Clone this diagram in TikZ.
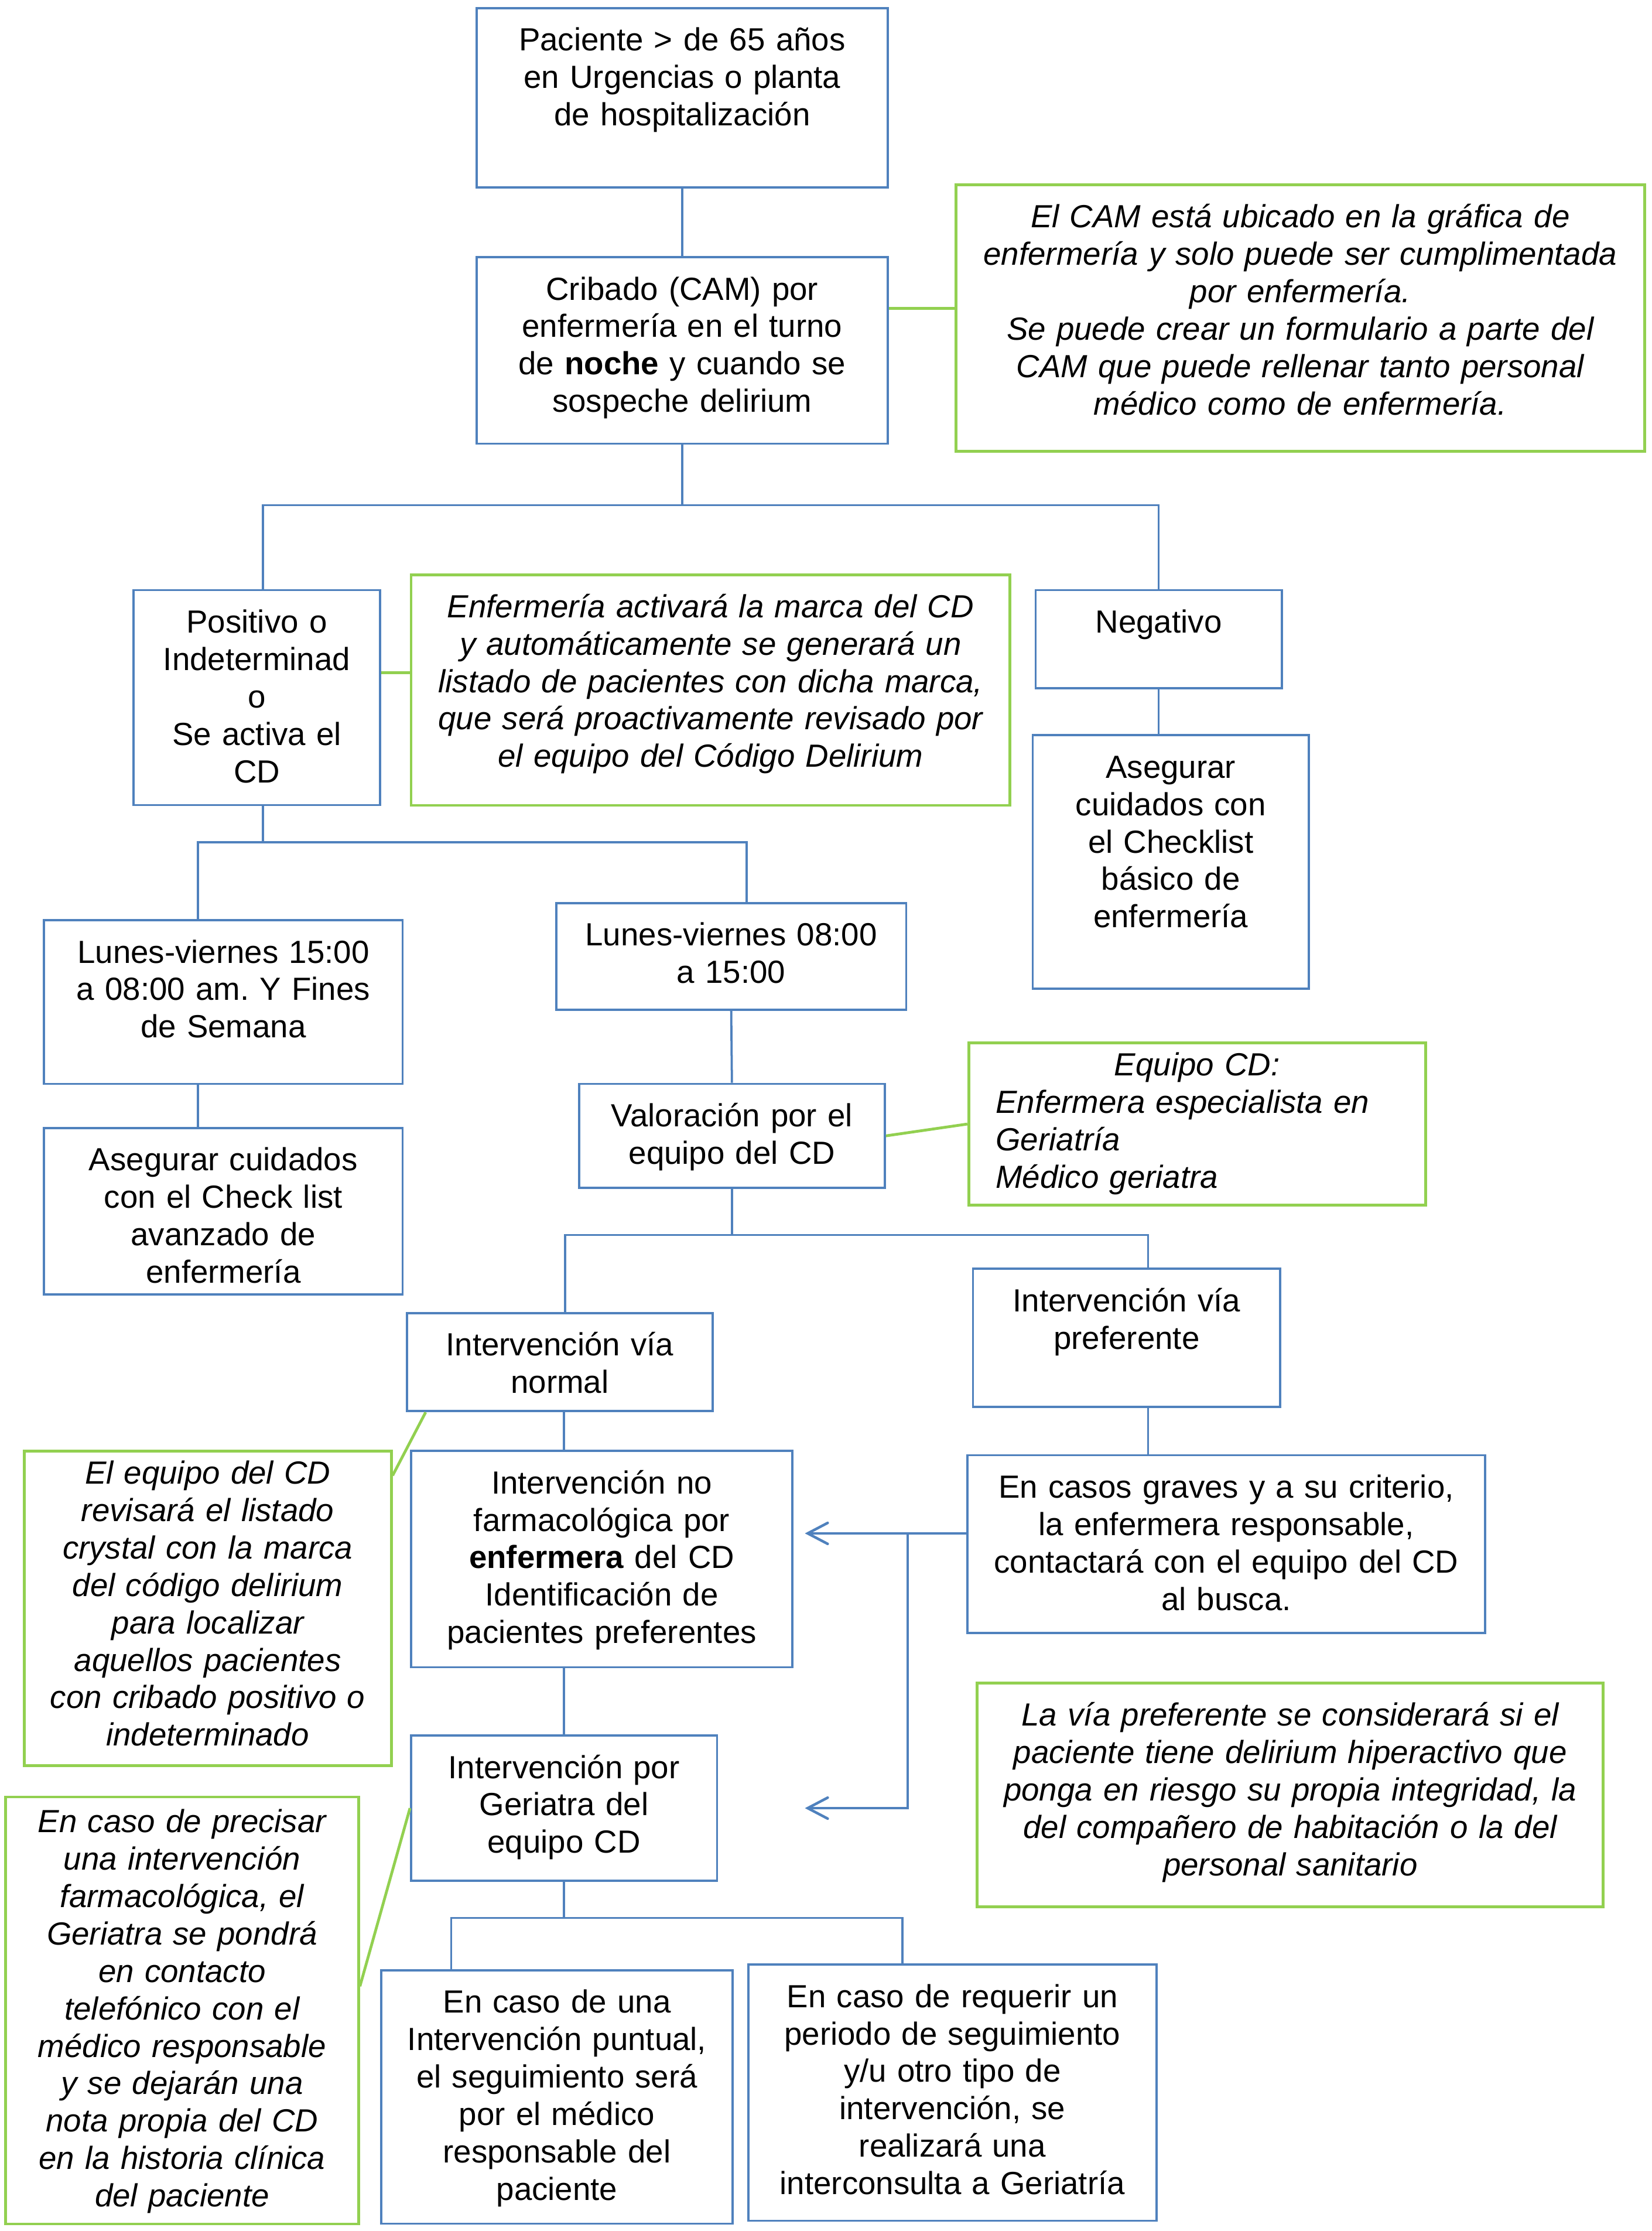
\documentclass[tikz,border=0pt]{standalone}
\usepackage{fontspec}
\setmainfont{Liberation Sans}
\usepackage{xcolor}
\usepackage{tikz}
\usetikzlibrary{calc,arrows.meta}
\definecolor{cdblue}{HTML}{4F81BD}
\definecolor{cdgreen}{HTML}{92D050}
\frenchspacing

\begin{document}
\begin{tikzpicture}[x=0.025cm, y=-0.025cm,
    bbox/.style={draw=cdblue, line width=1.1pt, anchor=north, inner sep=0pt, align=center,
        text height=0.75cm, font=\fontsize{16}{18.7}\selectfont},
    gbox/.style={bbox, draw=cdgreen, line width=1.4pt, font=\fontsize{16}{18.7}\selectfont\itshape},
    lnk/.style={cdblue, line width=1.1pt},
    alnk/.style={cdblue, line width=1.3pt, line cap=round, ->},
    glnk/.style={cdgreen, line width=1.4pt},
    >={Straight Barb[length=10pt, width=10.5pt, line cap=round]}]
    \useasboundingbox (0,0) rectangle (1161,1568);
    % top of the chart
    \node[bbox, text width=7.225cm, text depth=2.4cm] (pac) at (479.5,5)
        {Paciente > de 65 años\\ en Urgencias o planta\\ de hospitalización};
    \node[bbox, text width=7.225cm, text depth=2.525cm] (crib) at (479.5,180)
        {Cribado (CAM) por\\ enfermería en el turno\\ de \textbf{noche} y cuando se\\ sospeche delirium};
    \node[gbox, text width=12.1cm, text depth=3.925cm] (cam) at (914,129)
        {El CAM está ubicado en la gráfica de\\ enfermería y solo puede ser cumplimentada\\ por enfermería.\\
         Se puede crear un formulario a parte del\\ CAM que puede rellenar tanto personal\\ médico como de enfermería.};
    \draw[lnk] (pac.south) -- (crib.north);
    \draw[glnk] ([yshift=0.74cm]crib.east) -- ([yshift=0.74cm]crib.east -| cam.west);
    % cribado result
    \node[bbox, text width=4.325cm, text depth=3.025cm] (pos) at (180.5,414)
        {Positivo o\\ Indeterminad\\ o\\ Se activa el\\ CD};
    \node[gbox, text width=10.525cm, text depth=3.3cm] (enf) at (499.5,403)
        {Enfermería activará la marca del CD\\ y automáticamente se generará un\\ listado de pacientes con dicha marca,\\
         que será proactivamente revisado por\\ el equipo del Código Delirium};
    \node[bbox, text width=4.325cm, text depth=0.975cm] (neg) at (814.5,414) {Negativo};
    \node[bbox, text width=4.85cm, text depth=3.7cm] (chkb) at (823,516)
        {Asegurar\\ cuidados con\\ el Checklist\\ básico de\\ enfermería};
    \draw[lnk] (crib.south) -- (crib.south |- 0,355);
    \draw[lnk] ([xshift=0.11cm]pos.north) |- (neg.north |- 0,355) -- (neg.north);
    \draw[glnk] ([yshift=0.44cm]pos.east) -- ([yshift=0.44cm]pos.east -| enf.west);
    \draw[lnk] (neg.south) -- (neg.south |- chkb.north);
    % horario
    \node[bbox, text width=6.3cm, text depth=2.125cm] (lun15) at (157,646)
        {Lunes-viernes 15:00\\ a 08:00 am. Y Fines\\ de Semana};
    \node[bbox, text width=6.15cm, text depth=1.125cm] (lun08) at (514,634)
        {Lunes-viernes 08:00\\ a 15:00};
    \node[bbox, text width=6.3cm, text depth=2.175cm] (chka) at (157,792)
        {Asegurar cuidados\\ con el Check list\\ avanzado de\\ enfermería};
    \node[bbox, text width=5.375cm, text depth=1.075cm] (val) at (514.5,761)
        {Valoración por el\\ equipo del CD};
    \node[gbox, align=left, inner xsep=0.475cm, text width=7.075cm, text height=0.575cm, text depth=2.275cm] (eq) at (841.5,732)
        {\makebox[\linewidth]{Equipo CD:}\\ Enfermera especialista en\\ Geriatría\\ Médico geriatra};
    \draw[lnk] ([xshift=0.11cm]pos.south) -- ([xshift=0.11cm]pos.south |- 0,592);
    \draw[lnk] ([xshift=-0.45cm]lun15.north) |- ([xshift=0.275cm]lun08.north |- 0,592) -- ([xshift=0.275cm]lun08.north);
    \draw[lnk] ([xshift=-0.45cm]lun15.south) -- ([xshift=-0.45cm]lun15.south |- chka.north);
    \draw[lnk] (lun08.south) -- (val.north);
    \draw[glnk] (val.east) -- (eq.west);
    % via normal / preferente
    \node[bbox, text width=5.375cm, text depth=0.975cm] (vn) at (393.5,922)
        {Intervención vía\\ normal};
    \node[bbox, text width=5.4cm, text depth=1.675cm] (vp) at (792,891)
        {Intervención vía\\ preferente};
    \node[gbox, text width=6.45cm, text height=0.575cm, text depth=4.95cm] (eqd) at (146,1019)
        {El equipo del CD\\ revisará el listado\\ crystal con la marca\\ del código delirium\\ para localizar\\
         aquellos pacientes\\ con cribado positivo o\\ indeterminado};
    \node[bbox, text width=6.7cm, text depth=3.05cm] (nof) at (423,1019)
        {Intervención no\\ farmacológica por\\ \textbf{enfermera} del CD\\ Identificación de\\ pacientes preferentes};
    \node[bbox, text width=9.1cm, text depth=2.375cm] (gra) at (862,1022)
        {En casos graves y a su criterio,\\ la enfermera responsable,\\ contactará con el equipo del CD\\ al busca.};
    \node[gbox, text width=11cm, text depth=3.175cm] (pref) at (907,1182)
        {La vía preferente se considerará si el\\ paciente tiene delirium hiperactivo que\\ ponga en riesgo su propia integridad, la\\
         del compañero de habitación o la del\\ personal sanitario};
    \node[bbox, text width=5.375cm, text depth=1.8cm] (ger) at (396.5,1219)
        {Intervención por\\ Geriatra del\\ equipo CD};
    \draw[lnk] (val.south) -- (val.south |- 0,868);
    \draw[lnk] ([xshift=0.09cm]vn.north) |- ([xshift=0.375cm]vp.north |- 0,868) -- ([xshift=0.375cm]vp.north);
    \draw[lnk] ([xshift=0.375cm]vp.south) -- ([xshift=0.375cm]vp.south |- gra.north);
    \draw[lnk] (ger.north |- vn.south) -- (ger.north |- nof.north);
    \draw[glnk] ([yshift=-0.45cm]eqd.north east) -- ([xshift=0.35cm]vn.south west);
    \draw[lnk] (ger.north |- nof.south) -- (ger.north);
    \coordinate (a1) at ([yshift=0.19cm]gra.west);
    \coordinate (a2) at (638,1078);
    \draw[alnk] (a1) -- ([xshift=0.2cm]nof.east |- a1);
    \draw[alnk] (a2) |- ([xshift=1.525cm]ger.east);
    % bottom
    \node[gbox, text width=6.2cm, text height=0.625cm, text depth=6.875cm] (farm) at (128,1262)
        {En caso de precisar\\ una intervención\\ farmacológica, el\\ Geriatra se pondrá\\ en contacto\\ telefónico con el\\
         médico responsable\\ y se dejarán una\\ nota propia del CD\\ en la historia clínica\\ del paciente};
    \node[bbox, text width=6.175cm, text depth=3.7cm] (pun) at (391.5,1384)
        {En caso de una\\ Intervención puntual,\\ el seguimiento será\\ por el médico\\ responsable del\\ paciente};
    \node[bbox, text width=7.175cm, text depth=3.75cm] (req) at (669.5,1380)
        {En caso de requerir un\\ periodo de seguimiento\\ y/u otro tipo de\\ intervención, se\\ realizará una\\ interconsulta a Geriatría};
    \draw[glnk] ([yshift=0.425cm]farm.east) -- (ger.west);
    \draw[lnk] (ger.south) -- (ger.south |- 0,1348);
    \draw[lnk] ([xshift=1.25cm]pun.north west) |- ([xshift=2.725cm]req.north west |- 0,1348) -- ([xshift=2.725cm]req.north west);
\end{tikzpicture}
\end{document}
